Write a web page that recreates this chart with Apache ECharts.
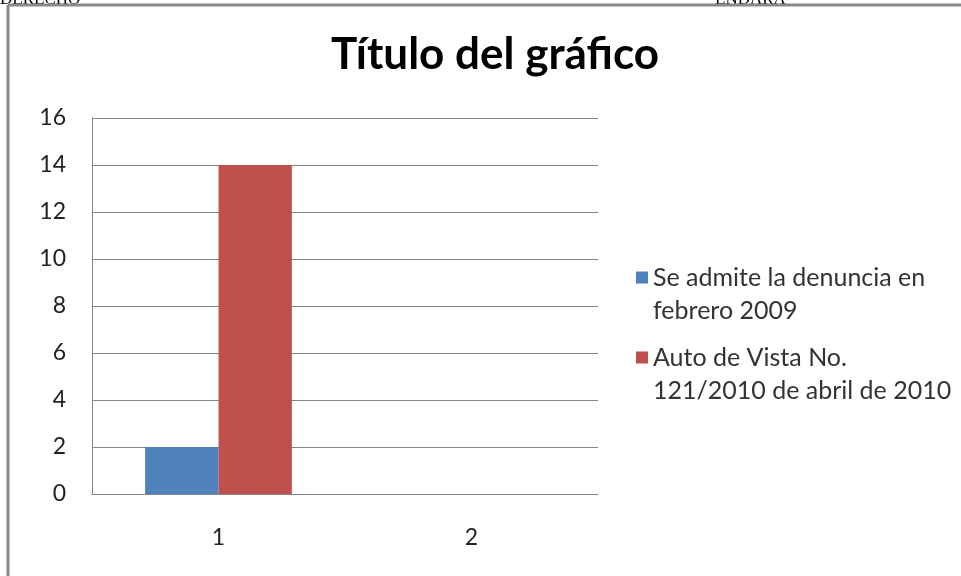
<!DOCTYPE html>
<html>
<head>
<meta charset="utf-8">
<script src="https://cdn.jsdelivr.net/npm/echarts@6/dist/echarts.min.js"></script>
<style>
  html, body { margin: 0; padding: 0; background: #fff; }
  #chart { width: 961px; height: 576px; }
</style>
</head>
<body>
<div id="chart"></div>
<script>
const categories = ['1', '2']
const serieNames = ['Se admite la denuncia en\nfebrero 2009', 'Auto de Vista No.\n121/2010 de abril de 2010']
const admiteData = [2, null]
const autoData = [14, null]

// icono con el cuadrado arriba, para que quede a la altura de la primera linea
const legendIcon = 'path://M0 0H12V12H0Z M0 45H0.01V45.01H0Z'

const chart = echarts.init(document.getElementById('chart'))
chart.setOption({
  animation: false,
  title: {
    text: 'Título del gráfico',
    left: 490,
    textAlign: 'center',
    top: 28,
    textStyle: { fontFamily: 'Lato', fontWeight: 'bold', fontSize: 44, color: '#000' }
  },
  legend: {
    orient: 'vertical',
    left: 636,
    top: 261,
    padding: 0,
    itemWidth: 12,
    itemHeight: 45,
    itemGap: 14,
    icon: legendIcon,
    textStyle: { fontFamily: 'Lato', fontSize: 25, lineHeight: 33, color: '#333' },
    data: serieNames
  },
  grid: { left: 92, right: 363, top: 118, bottom: 82 },
  xAxis: {
    type: 'category',
    data: categories,
    axisLine: { lineStyle: { color: '#868686', width: 1 } },
    axisTick: { show: false },
    axisLabel: { fontFamily: 'Lato', fontSize: 23, color: '#222', margin: 32 }
  },
  yAxis: {
    type: 'value',
    min: 0,
    max: 16,
    interval: 2,
    axisLine: { show: true, lineStyle: { color: '#868686' } },
    axisTick: { show: false },
    splitLine: { lineStyle: { color: '#868686' } },
    axisLabel: { fontFamily: 'Lato', fontSize: 23, color: '#222', margin: 26 }
  },
  series: [
    {
      name: serieNames[0],
      type: 'bar',
      data: admiteData,
      barGap: 0,
      barCategoryGap: '42%',
      itemStyle: { color: '#4f81bd' }
    },
    {
      name: serieNames[1],
      type: 'bar',
      data: autoData,
      barGap: 0,
      barCategoryGap: '42%',
      itemStyle: { color: '#c0504d' }
    }
  ],
  graphic: [
    { type: 'text', left: 0, top: -9, style: { text: 'DERECHO', font: '17px "Liberation Serif"', fill: '#000' } },
    { type: 'text', left: 715, top: -9, style: { text: 'ENDARA', font: '17px "Liberation Serif"', fill: '#000' } },
    { type: 'line', shape: { x1: 8, y1: 5, x2: 961, y2: 5 }, style: { stroke: '#8a8a8a', lineWidth: 3 }, z: 100 },
    { type: 'line', shape: { x1: 8, y1: 5, x2: 8, y2: 576 }, style: { stroke: '#8a8a8a', lineWidth: 3 }, z: 100 }
  ]
})
</script>
</body>
</html>
